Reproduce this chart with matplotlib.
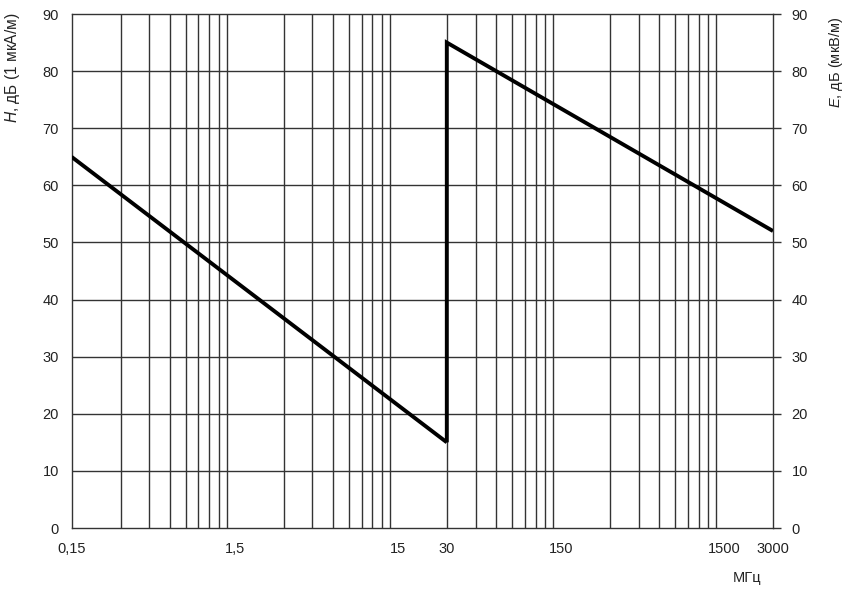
import numpy as np
import matplotlib
matplotlib.use('Agg')
import matplotlib.pyplot as plt

plt.rcParams['font.family'] = ['Liberation Sans', 'DejaVu Sans']
plt.rcParams['mathtext.fontset'] = 'custom'
plt.rcParams['mathtext.rm'] = 'Liberation Sans'
plt.rcParams['mathtext.it'] = 'Liberation Sans:italic'

# данные (МГц, дБ)
h_freq = [0.15, 30]      # H, дБ (1 мкА/м)
h_level = [65, 15]
e_freq = [30, 30, 3000]  # E, дБ (мкВ/м)
e_level = [15, 85, 52]

# сетка
grid_bases = [0.15, 1.5, 15, 150]
grid_mult = [2, 3, 4, 5, 6, 7, 8, 9]
x_ticks = [0.15, 1.5, 15, 30, 150, 1500, 3000]
x_labels = ['0,15', '1,5', '15', '30', '150', '1500', '3000']
y_ticks = [0, 10, 20, 30, 40, 50, 60, 70, 80, 90]

gcol = '#333333'
tcol = '#222222'

fig = plt.figure(figsize=(8.46, 5.94), dpi=100)
ax = fig.add_axes([71.5 / 846, 1 - 528 / 594, (773 - 71.5) / 846, (528 - 14) / 594])
ax.set_xscale('log')
ax.set_xlim(0.15, 3000)
ax.set_ylim(0, 90)

xs = [b * k for b in grid_bases for k in grid_mult]
ax.vlines(xs, 0, 90, colors=gcol, lw=1.0, zorder=1)
ax.hlines(y_ticks[1:-1], 0.15, 3000, colors=gcol, lw=1.0, zorder=1)

ax.plot(h_freq, h_level, color='black', lw=2.8, solid_capstyle='butt', zorder=3)
ax.plot(e_freq, e_level, color='black', lw=2.8, solid_capstyle='butt',
        solid_joinstyle='miter', zorder=3)

for s in ax.spines.values():
    s.set_color(gcol)
    s.set_linewidth(1.0)

ax.set_xticks(x_ticks)
ax.set_xticklabels(x_labels)
ax.xaxis.set_minor_locator(matplotlib.ticker.NullLocator())
ax.tick_params(axis='x', length=0, pad=10, labelsize=10.5, colors=tcol)
ax.set_yticks(y_ticks)
ax.tick_params(axis='y', length=0, pad=9, labelsize=10.5, colors=tcol)

ax2 = ax.twinx()
ax2.set_ylim(0, 90)
ax2.set_yticks(y_ticks)
ax2.tick_params(axis='y', length=5.5, width=1.0, color=gcol, pad=8, labelsize=10.5,
                labelcolor=tcol)
for s in ax2.spines.values():
    s.set_visible(False)

fig.text(12 / 846, 1 - 68 / 594, r'$H$, дБ (1 мкА/м)', rotation=90,
         ha='center', va='center', fontsize=11.2, color=tcol)
fig.text(836 / 846, 1 - 62 / 594, r'$E$, дБ (мкВ/м)', rotation=90,
         ha='center', va='center', fontsize=10.5, color=tcol,
         family=['Liberation Sans Narrow', 'Liberation Sans'])
fig.text(747 / 846, 1 - 578 / 594, 'МГц', ha='center', va='center',
         fontsize=10.5, color=tcol)

fig.savefig('out.png', dpi=100)
